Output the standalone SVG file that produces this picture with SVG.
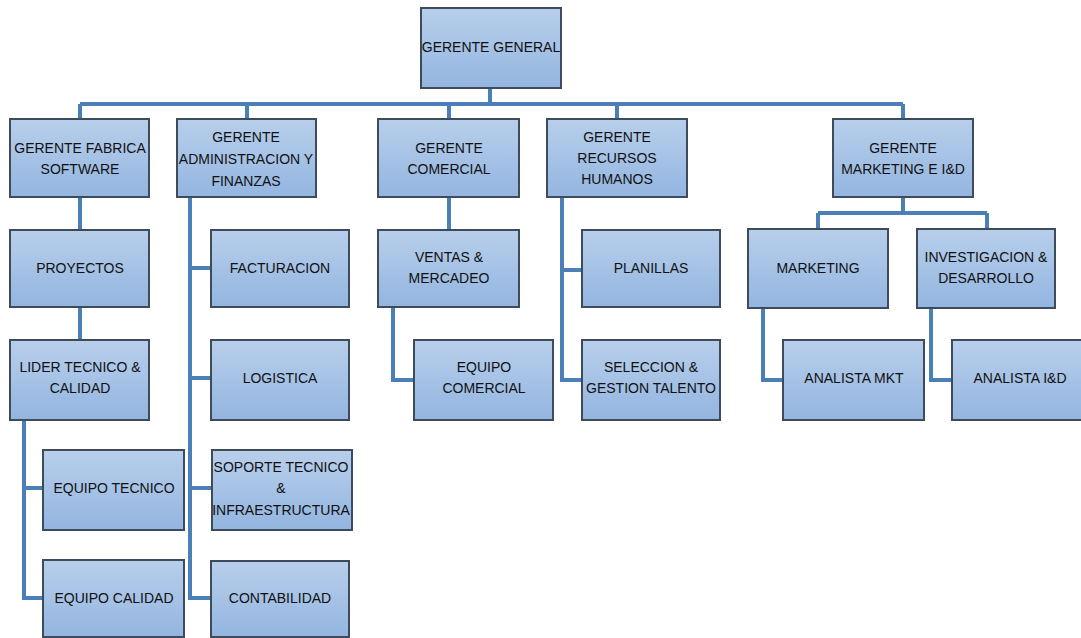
<svg xmlns="http://www.w3.org/2000/svg" width="1081" height="638" viewBox="0 0 1081 638">
<defs>
<linearGradient id="g" x1="0" y1="0" x2="0" y2="1">
<stop offset="0" stop-color="#b8cfeb"/>
<stop offset="1" stop-color="#93b5e0"/>
</linearGradient>
<style>
.n rect{fill:url(#g);stroke:#3d4b5a;stroke-width:2}
.n text{font-family:"Liberation Sans",Arial,sans-serif;font-size:14px;fill:#111;text-anchor:middle}
.c path{fill:none;stroke:#4a7fb8;stroke-width:4}
</style>
</defs>
<rect width="1081" height="638" fill="#fff"/>
<g class="c">
<path d="M490 88V104M80 104H903M80 104V119M247 104V119M449 104V119M617 104V119M903 104V119"/>
<path d="M80 197V230M80 307V340"/>
<path d="M24 420V598H43M24 488H43"/>
<path d="M190 197V598H211M190 268H211M190 378H211M190 488H211"/>
<path d="M449 197V230"/>
<path d="M393 307V380H414"/>
<path d="M562 197V380H582M562 270H582"/>
<path d="M903 197V213M818 213H987M818 213V229M987 213V229"/>
<path d="M763 308V380H783"/>
<path d="M931 308V380H952"/>
</g>
<g id="n-gg" class="n"><rect x="421" y="8" width="140" height="80"/><text x="491" y="52">GERENTE GENERAL</text></g>
<g id="n-gfs" class="n"><rect x="10" y="119" width="139" height="78"/><text x="80" y="153">GERENTE FABRICA</text><text x="80" y="174">SOFTWARE</text></g>
<g id="n-gaf" class="n"><rect x="177" y="119" width="139" height="78"/><text x="246" y="142">GERENTE</text><text x="246" y="164">ADMINISTRACION Y</text><text x="246" y="186">FINANZAS</text></g>
<g id="n-gc" class="n"><rect x="378" y="119" width="141" height="78"/><text x="449" y="153">GERENTE</text><text x="449" y="174">COMERCIAL</text></g>
<g id="n-grh" class="n"><rect x="547" y="119" width="140" height="78"/><text x="617" y="142">GERENTE</text><text x="617" y="163">RECURSOS</text><text x="617" y="184">HUMANOS</text></g>
<g id="n-gm" class="n"><rect x="833" y="119" width="140" height="78"/><text x="903" y="153">GERENTE</text><text x="903" y="174">MARKETING E I&amp;D</text></g>
<g id="n-proy" class="n"><rect x="10" y="230" width="139" height="77"/><text x="80" y="273">PROYECTOS</text></g>
<g id="n-fact" class="n"><rect x="211" y="230" width="138" height="77"/><text x="280" y="273">FACTURACION</text></g>
<g id="n-vm" class="n"><rect x="378" y="230" width="141" height="77"/><text x="449" y="262">VENTAS &amp;</text><text x="449" y="283">MERCADEO</text></g>
<g id="n-plan" class="n"><rect x="582" y="230" width="138" height="77"/><text x="651" y="273">PLANILLAS</text></g>
<g id="n-mkt" class="n"><rect x="748" y="229" width="140" height="79"/><text x="818" y="273">MARKETING</text></g>
<g id="n-id" class="n"><rect x="917" y="229" width="138" height="79"/><text x="986" y="262">INVESTIGACION &amp;</text><text x="986" y="283">DESARROLLO</text></g>
<g id="n-lider" class="n"><rect x="10" y="340" width="139" height="80"/><text x="80" y="372">LIDER TECNICO &amp;</text><text x="80" y="393">CALIDAD</text></g>
<g id="n-log" class="n"><rect x="211" y="340" width="138" height="80"/><text x="280" y="383">LOGISTICA</text></g>
<g id="n-ec" class="n"><rect x="414" y="340" width="139" height="80"/><text x="484" y="372">EQUIPO</text><text x="484" y="393">COMERCIAL</text></g>
<g id="n-sel" class="n"><rect x="582" y="340" width="138" height="80"/><text x="651" y="372">SELECCION &amp;</text><text x="651" y="393">GESTION TALENTO</text></g>
<g id="n-amkt" class="n"><rect x="783" y="340" width="141" height="80"/><text x="854" y="383">ANALISTA MKT</text></g>
<g id="n-aid" class="n"><rect x="952" y="340" width="140" height="80"/><text x="1020" y="383">ANALISTA I&amp;D</text></g>
<g id="n-et" class="n"><rect x="43" y="450" width="141" height="80"/><text x="114" y="493">EQUIPO TECNICO</text></g>
<g id="n-sop" class="n"><rect x="212" y="450" width="140" height="80"/><text x="281" y="472">SOPORTE TECNICO</text><text x="281" y="493">&amp;</text><text x="281" y="515">INFRAESTRUCTURA</text></g>
<g id="n-eca" class="n"><rect x="43" y="560" width="141" height="77"/><text x="114" y="603">EQUIPO CALIDAD</text></g>
<g id="n-cont" class="n"><rect x="211" y="561" width="138" height="76"/><text x="280" y="603">CONTABILIDAD</text></g>
</svg>
